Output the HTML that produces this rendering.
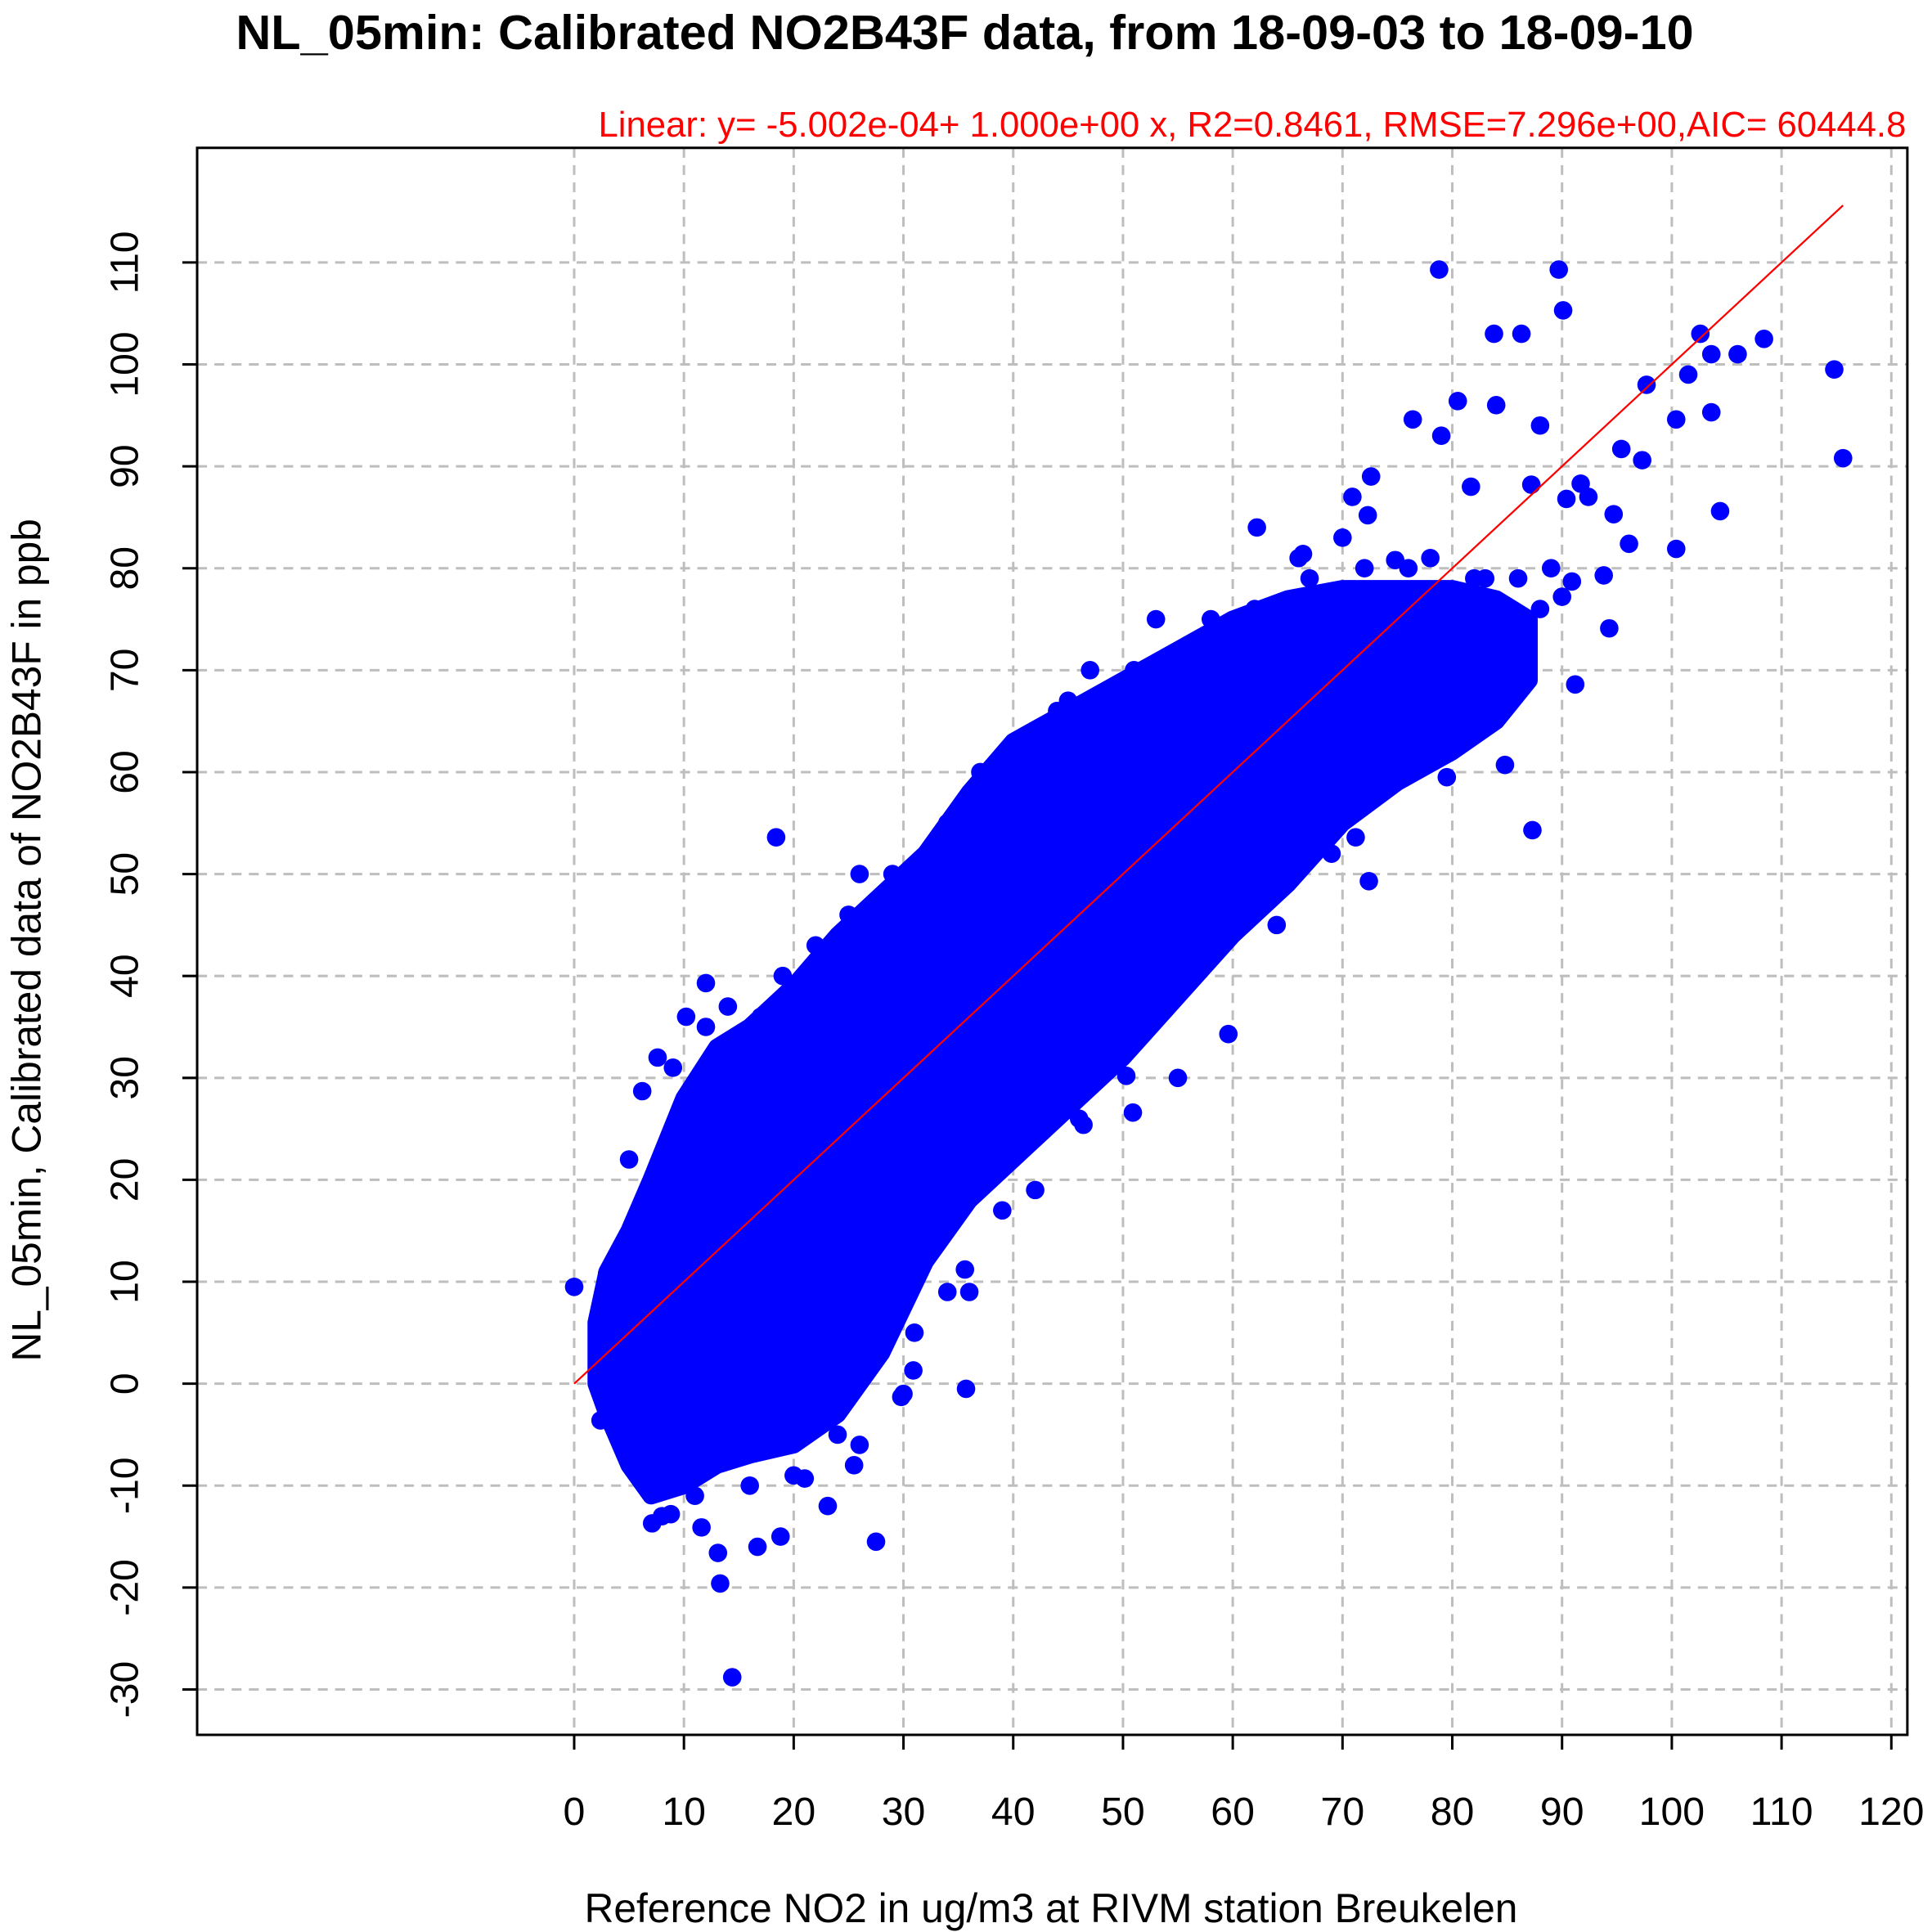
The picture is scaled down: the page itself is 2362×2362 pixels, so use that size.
<!DOCTYPE html>
<html><head><meta charset="utf-8"><style>html,body{margin:0;padding:0;background:#fff}svg{display:block}text{font-family:"Liberation Sans",sans-serif}</style></head>
<body>
<svg id="chart" width="2362" height="2362" viewBox="0 0 1568 1568" xmlns="http://www.w3.org/2000/svg">
<rect width="1568" height="1568" fill="#fff"/>
<text x="783" y="40" text-anchor="middle" font-size="39.5" font-weight="bold">NL_05min: Calibrated NO2B43F data, from 18-09-03 to 18-09-10</text>
<text x="1547" y="111" text-anchor="end" font-size="29" fill="#f00">Linear: y= -5.002e-04+ 1.000e+00 x, R2=0.8461, RMSE=7.296e+00,AIC= 60444.8</text>
<g id="grid"></g>
<g id="cloud"></g>
<g id="pts"></g>
<g id="fit"></g>
<rect x="160" y="120" width="1388" height="1288" fill="none" stroke="#000" stroke-width="2"/>
<g id="axes"></g>
<text x="853" y="1560" text-anchor="middle" font-size="33">Reference NO2 in ug/m3 at RIVM station Breukelen</text>
<text transform="translate(33,763) rotate(-90)" text-anchor="middle" font-size="33">NL_05min, Calibrated data of NO2B43F in ppb</text>
</svg>
<script>
const xTicks=[0,10,20,30,40,50,60,70,80,90,100,110,120];
const yTicks=[-30,-20,-10,0,10,20,30,40,50,60,70,80,90,100,110];
const fitIntercept=-0.0005;
const fitSlope=1.0;
const fitRange=[0,115.6];
const envX=[2,3,5,7,10,13,16,20,24,28,32,36,40,45,50,55,60,65,70,75,80,84,87];
const envLow=[0,-3,-8,-11,-10,-8,-7,-6,-3,3,12,18,22,27,32,38,44,49,55,59,62,65,69];
const envHigh=[6,11,15,20,28,33,35,39,44,48,52,58,63,66,69,72,75,77,78,78,78,77,75];
const ptsX=[0,78.8,89.7,90.1,83.8,86.3,102.6,108.4,114.8,115.6,106,103.6,101.5,97.7,100.4,103.6,104.4,100.4,95.4,97.3,96.1,94.7,93.8,94.3,91.2,90.9,90,90.4,91.7,92.4,80.5,79,76.4,84,88,87.2,81.7,72.6,70.9,72.3,74.8,62.2,66.4,87.3,84.8,79.5,72.4,71.2,59.6,50.9,46.4,50.3,18.4,38.5,35.6,30.9,35.7,29.8,27.5,18.8,16.7,13.3,13.1,14.4,11.6,7.1,8.8,23.1,21,25.5,2.4,2.2,3,6.2,7.6,12,10.2,33,38,40.5,44,47,53,58,62,66,70,76,82,86,89,85,79,73,56,61,52,48,43,26,28,22,15,9,5,24,31,36,42,55,64,69,12,14,17,19,25,29,34,37,45,51,57,63,67,72,78,83,88,8,11,16,20,26,30,34,39,46];
const ptsY=[9.5,109.3,109.3,105.3,103,103,103,102.5,99.5,90.8,101,101,99,98,94.6,95.3,85.6,81.9,91.7,90.6,82.4,85.3,79.3,74.1,68.6,78.7,77.2,86.8,88.3,87,96.4,93,94.6,96,94,88.2,88,89,87,85.2,80.8,84,81.4,54.3,60.7,59.5,49.3,53.6,34.3,26.6,25.4,30.2,53.6,24.7,11.2,1.3,-0.5,-1.3,-15.5,-15,-16,-19.6,-16.6,-28.8,-14.1,-13.7,-12.8,-12,-9.3,-8,-3.6,5.8,10.8,28.7,32,39.3,36,52,58,63,66,70,75,75,76,81,83,80,79,79,80,72,64,60,42,47,47,38,30,50,44,43,34,31,22,-5,5,9,19,30,45,52,35,37,36,40,46,50,55,60,67,70,73,76,79,80,81,79,76,-13,-11,-10,-9,-6,-1,9,17,26];
const NS='http://www.w3.org/2000/svg';
const L=160,R=1548,T=120,B=1408;
const sx=v=>466+(v-0)*(1535-466)/120;
const sy=v=>1123-(v-0)*(1123-213)/110;
function mk(tag,attrs,parent){const e=document.createElementNS(NS,tag);for(const k in attrs)e.setAttribute(k,attrs[k]);parent.appendChild(e);return e;}
const grid=document.getElementById('grid'),axes=document.getElementById('axes');
xTicks.forEach(v=>{
  const g=mk('line',{x1:sx(v),x2:sx(v),y1:T,y2:B,stroke:'#bebebe','stroke-width':2,'stroke-dasharray':'8,6'},grid);
  
  
  const t=mk('line',{x1:sx(v),x2:sx(v),y1:B,y2:B+12,stroke:'#000','stroke-width':2},axes);
  
  
  const l=mk('text',{x:sx(v),y:1481,'text-anchor':'middle','font-size':32},axes);
  l.textContent=v;
  
  
});
yTicks.forEach(v=>{
  const g=mk('line',{x1:L,x2:R,y1:sy(v),y2:sy(v),stroke:'#bebebe','stroke-width':2,'stroke-dasharray':'8,6'},grid);
  
  
  const t=mk('line',{x1:L-12,x2:L,y1:sy(v),y2:sy(v),stroke:'#000','stroke-width':2},axes);
  
  
  const l=mk('text',{transform:`translate(112,${sy(v)}) rotate(-90)`,'text-anchor':'middle','font-size':32},axes);
  l.textContent=v;
  
  
});
const cloud=document.getElementById('cloud');
let d='M'+envX.map((x,i)=>sx(x)+','+sy(envHigh[i])).join(' L');
for(let i=envX.length-1;i>=0;i--)d+=' L'+sx(envX[i])+','+sy(envLow[i]);
const poly=mk('path',{d:d+'Z',fill:'#0000ff',stroke:'#0000ff','stroke-width':14,'stroke-linejoin':'round'},cloud);


const pts=document.getElementById('pts');
ptsX.forEach((x,i)=>{
  const c=mk('circle',{cx:sx(x),cy:sy(ptsY[i]),r:7.5,fill:'#0000ff'},pts);
  
  
});
const fl=mk('line',{x1:sx(fitRange[0]),y1:sy(fitIntercept+fitSlope*fitRange[0]),x2:sx(fitRange[1]),y2:sy(fitIntercept+fitSlope*fitRange[1]),stroke:'#f00','stroke-width':1.5},document.getElementById('fit'));


</script>
</body></html>
